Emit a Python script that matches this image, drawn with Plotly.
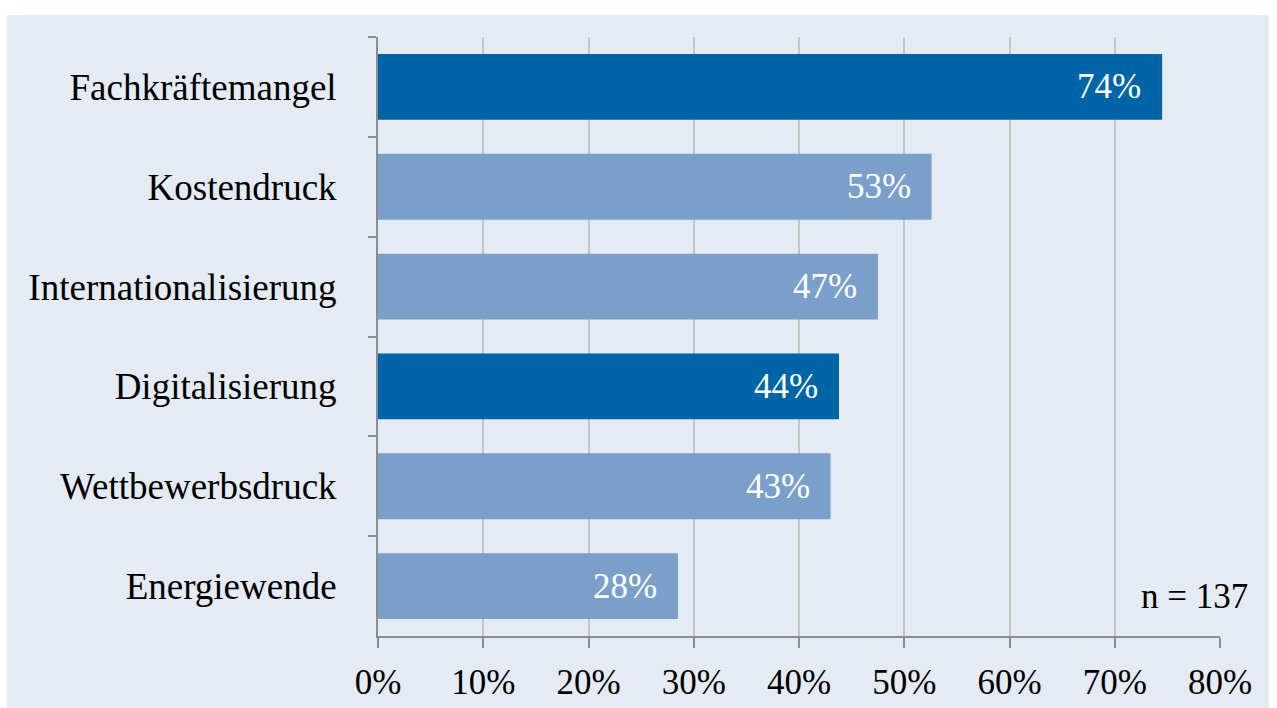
import plotly.graph_objects as go

categories = ["Fachkräftemangel", "Kostendruck", "Internationalisierung",
              "Digitalisierung", "Wettbewerbsdruck", "Energiewende"]
values = [74.5, 52.6, 47.5, 43.8, 43.0, 28.5]
labels = ["74%", "53%", "47%", "44%", "43%", "28%"]
highlight = [True, False, False, True, False, False]
x_ticks = [0, 10, 20, 30, 40, 50, 60, 70, 80]
x_ticklabels = ["0%", "10%", "20%", "30%", "40%", "50%", "60%", "70%", "80%"]
note = "n = 137"

DARK = "#0065A6"
LIGHT = "#7A9FCB"
PANEL = "#E4EBF4"
SERIF = "Liberation Serif, Times New Roman, serif"

W, H = 1277, 708
L, R, T, B = 378, 57, 37, 72
pw, ph = W - L - R, H - T - B

fig = go.Figure()
fig.add_trace(go.Bar(
    x=values, y=categories, orientation="h",
    marker=dict(color=[DARK if h else LIGHT for h in highlight], line=dict(width=0)),
    hoverinfo="skip",
))

for v, c, lab in zip(values, categories, labels):
    fig.add_annotation(x=v, y=c, xref="x", yref="y", text=lab, showarrow=False,
                       xanchor="right", xshift=-19, yshift=0,
                       font=dict(family=SERIF, size=35, color="white"))

fig.add_annotation(x=(1251 - L) / pw, y=(636 - 596) / ph, xref="paper", yref="paper",
                   text=note, showarrow=False, xanchor="right", yanchor="middle",
                   bgcolor=PANEL, borderpad=2,
                   font=dict(family=SERIF, size=35, color="black"))

# background panel
fig.add_shape(type="rect", xref="paper", yref="paper", layer="below",
              x0=(7 - L) / pw, x1=(1269 - L) / pw,
              y0=(636 - 720) / ph, y1=(636 - 15) / ph,
              fillcolor=PANEL, line=dict(width=0))

fig.update_layout(
    width=W, height=H,
    margin=dict(l=L, r=R, t=T, b=B, pad=0, autoexpand=False),
    paper_bgcolor="white",
    plot_bgcolor="rgba(0,0,0,0)",
    bargap=0.34,
    showlegend=False,
    font=dict(family=SERIF, size=35, color="black"),
    xaxis=dict(
        range=[0, 80], tickvals=x_ticks, ticktext=x_ticklabels,
        automargin=False,
        showgrid=True, gridcolor="#C4C4C4", gridwidth=2,
        zeroline=False, showline=True, linecolor="#8C8C8C", linewidth=2,
        ticks="outside", ticklen=10, tickwidth=2, tickcolor="#8C8C8C",
        tickfont=dict(family=SERIF, size=35, color="black"),
        ticklabelstandoff=4,
    ),
    yaxis=dict(
        range=[len(categories) - 0.5, -0.5],
        automargin=False,
        showgrid=False, zeroline=False, showline=True, linecolor="#8C8C8C", linewidth=2,
        ticks="outside", ticklen=8, tickwidth=2, tickcolor="#8C8C8C",
        tickson="boundaries",
        tickfont=dict(family=SERIF, size=37, color="black"),
        ticklabelstandoff=32,
    ),
)

fig.write_html("out.html")
